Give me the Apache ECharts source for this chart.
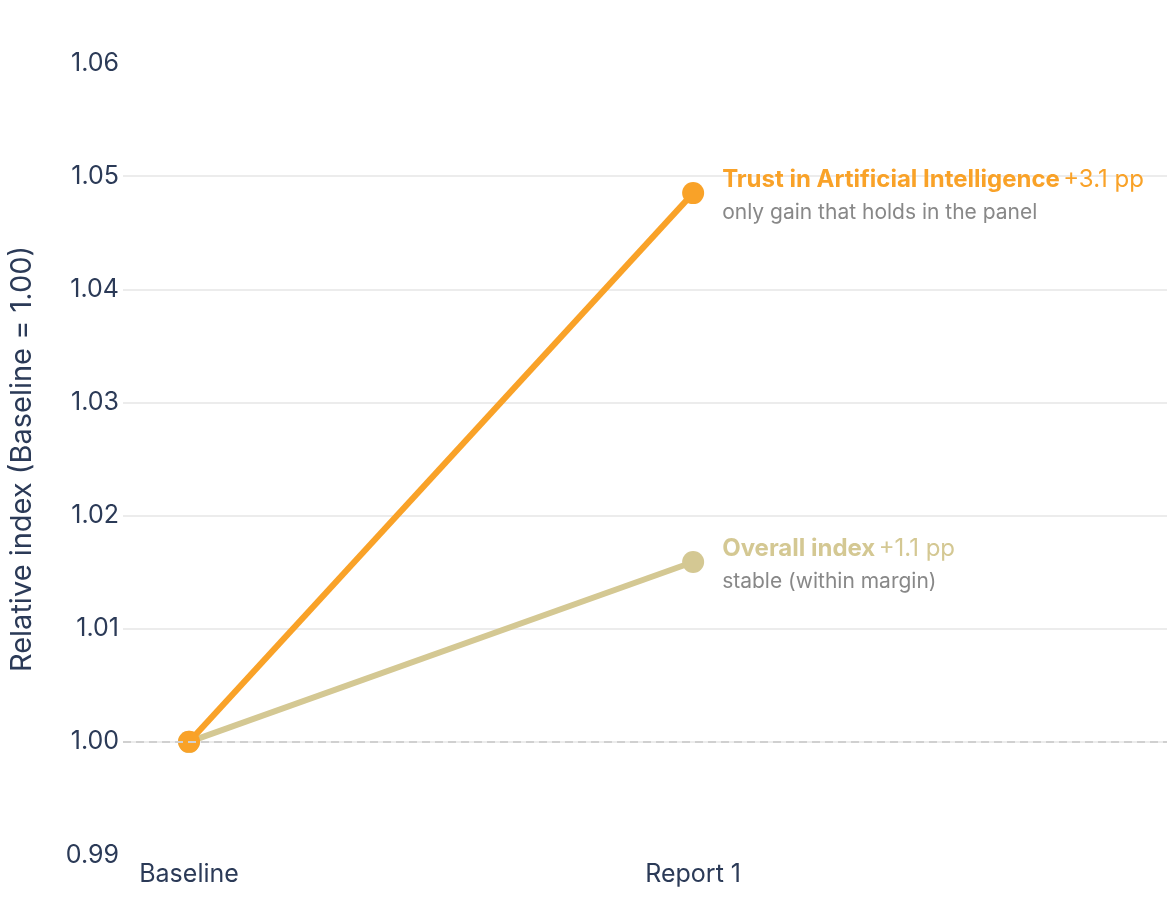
<!DOCTYPE html>
<html>
<head>
<meta charset="utf-8">
<script src="https://cdn.jsdelivr.net/npm/echarts@6/dist/echarts.min.js"></script>
<style>
  html, body { margin: 0; padding: 0; background: #fff; }
  #chart { width: 1171px; height: 917px; }
</style>
</head>
<body>
<div id="chart"></div>
<script>
// categories on the x axis (drawn on a value axis, index = position)
var categories = ['Baseline', 'Report 1'];
// relative index values, baseline = 1.00
var trustValues = [1.000, 1.0485];
var overallValues = [1.000, 1.0159];
var yTicks = [0.99, 1.00, 1.01, 1.02, 1.03, 1.04, 1.05, 1.06];

var navy = '#2b3a57';
var orange = '#f9a228';
var tan = '#d4c893';

function toPoints(values) {
  return values.map(function (v, i) { return [i, v]; });
}

var chart = echarts.init(document.getElementById('chart'));

var option = {
  animation: false,
  textStyle: { fontFamily: 'Inter' },
  grid: { left: 123, right: 4, top: 63, bottom: 62, outerBoundsMode: 'none' },
  xAxis: {
    type: 'value',
    min: -0.131,
    max: 1.94,
    axisLine: { show: false },
    axisTick: { show: false },
    splitLine: { show: false },
    axisLabel: {
      customValues: [0, 1],
      formatter: function (v) { return categories[Math.round(v)] || ''; },
      color: navy,
      fontSize: 25,
      margin: 7,
      fontFamily: 'Inter'
    }
  },
  yAxis: {
    type: 'value',
    min: yTicks[0],
    max: yTicks[yTicks.length - 1],
    interval: 0.01,
    name: 'Relative index (Baseline = 1.00)',
    nameLocation: 'middle',
    nameGap: 86,
    nameTextStyle: { color: navy, fontSize: 29, fontFamily: 'Inter' },
    axisLine: { show: false },
    axisTick: { show: false },
    splitLine: {
      show: true,
      showMinLine: false,
      showMaxLine: false,
      lineStyle: { color: '#ececec', width: 2 }
    },
    axisLabel: {
      color: navy,
      fontSize: 25,
      margin: 4,
      fontFamily: 'Inter',
      formatter: function (v) { return v.toFixed(2); }
    }
  },
  series: [
    {
      name: 'Overall index',
      type: 'line',
      data: toPoints(overallValues),
      symbol: 'circle',
      symbolSize: 22,
      lineStyle: { color: tan, width: 6 },
      itemStyle: { color: tan },
      z: 3,
      markLine: {
        silent: true,
        symbol: 'none',
        label: { show: false },
        lineStyle: { color: '#d0d0d0', type: [8, 5], width: 2 },
        data: [{ yAxis: 1.0 }]
      },
      label: {
        show: true,
        position: 'right',
        distance: 18,
        offset: [0, 3],
        formatter: function (p) {
          if (p.dataIndex !== 1) return '';
          return '{t|Overall index} {v|+1.1 pp}\n{s|stable (within margin)}';
        },
        rich: {
          t: { color: tan, fontWeight: 'bold', fontSize: 24, lineHeight: 34, fontFamily: 'Inter' },
          v: { color: tan, fontSize: 24, lineHeight: 34, fontFamily: 'Inter' },
          s: { color: '#888888', fontSize: 21, lineHeight: 32, fontFamily: 'Inter' }
        }
      }
    },
    {
      name: 'Trust in Artificial Intelligence',
      type: 'line',
      data: toPoints(trustValues),
      symbol: 'circle',
      symbolSize: 22,
      lineStyle: { color: orange, width: 6 },
      itemStyle: { color: orange },
      z: 4,
      label: {
        show: true,
        position: 'right',
        distance: 18,
        offset: [0, 3],
        formatter: function (p) {
          if (p.dataIndex !== 1) return '';
          return '{t|Trust in Artificial Intelligence} {v|+3.1 pp}\n{s|only gain that holds in the panel}';
        },
        rich: {
          t: { color: orange, fontWeight: 'bold', fontSize: 24, lineHeight: 34, fontFamily: 'Inter' },
          v: { color: orange, fontSize: 24, lineHeight: 34, fontFamily: 'Inter' },
          s: { color: '#888888', fontSize: 21, lineHeight: 32, fontFamily: 'Inter' }
        }
      }
    }
  ]
};

chart.setOption(option);
</script>
</body>
</html>
